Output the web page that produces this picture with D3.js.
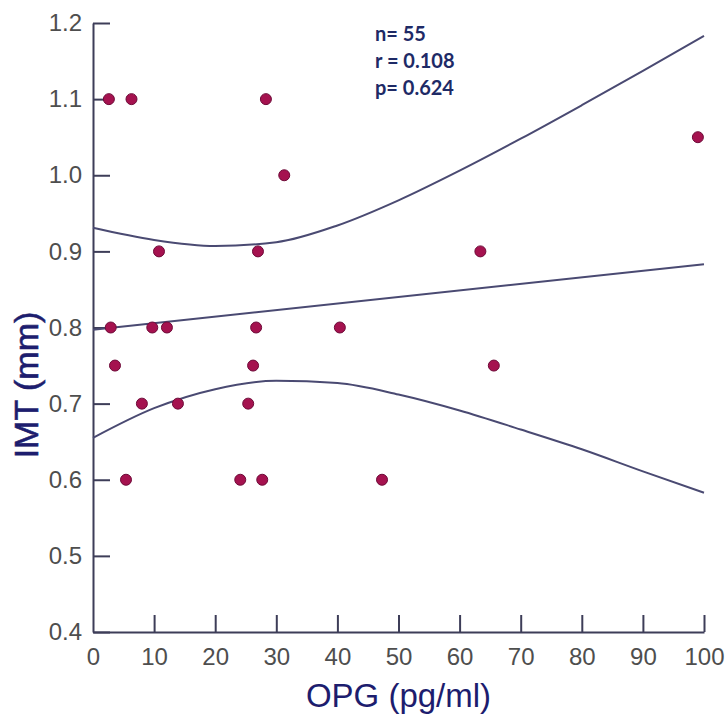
<!DOCTYPE html>
<html>
<head>
<meta charset="utf-8">
<script src="https://cdn.jsdelivr.net/npm/d3@7"></script>
<style>
  body { margin: 0; background: #fff; }
  svg { display: block; }
</style>
</head>
<body>
<svg id="chart"></svg>
<script>
// scatter points (OPG pg/ml, IMT mm)
const opg = [2.6, 6.3, 28.3, 99.0, 31.3, 10.8, 27.0, 63.4,
  2.9, 9.7, 12.1, 26.7, 40.4, 3.6, 26.2, 65.6,
  8.0, 13.9, 25.4, 5.4, 24.1, 27.7, 47.3];
const imt = [1.1, 1.1, 1.1, 1.05, 1.0, 0.9, 0.9, 0.9,
  0.8, 0.8, 0.8, 0.8, 0.8, 0.75, 0.75, 0.75,
  0.7, 0.7, 0.7, 0.6, 0.6, 0.6, 0.6];

// regression line and 95% band
const fitX = [0, 100];
const fitY = [0.797, 0.883];
const bandX = [0, 10, 20, 30, 40, 50, 60, 70, 80, 90, 100];
const upperY = [0.931, 0.915, 0.907, 0.912, 0.934, 0.967, 1.006, 1.048, 1.092, 1.137, 1.183];
const lowerY = [0.655, 0.694, 0.719, 0.730, 0.727, 0.712, 0.691, 0.666, 0.640, 0.611, 0.583];

const xTicks = [0, 10, 20, 30, 40, 50, 60, 70, 80, 90, 100];
const yTicks = [0.4, 0.5, 0.6, 0.7, 0.8, 0.9, 1.0, 1.1, 1.2];
const stats = ["n= 55", "r = 0.108", "p= 0.624"];

const width = 726;
const height = 718;

const svg = d3.select("#chart")
    .attr("width", width)
    .attr("height", height);

const x = d3.scaleLinear().domain([0, 100]).range([93, 704]);
const y = d3.scaleLinear().domain([0.4, 1.2]).range([632, 23]);

const axisColor = "#3d3d58";
const tickFont = "'Liberation Sans Narrow', 'Liberation Sans', Arial, sans-serif";

// axes, ticks pointing inward
const yAxis = svg.append("g")
    .attr("transform", `translate(${x(0)},0)`)
    .call(d3.axisLeft(y).tickValues(yTicks).tickFormat(d3.format(".1f"))
        .tickSizeInner(-17).tickSizeOuter(0).tickPadding(11));

const xAxis = svg.append("g")
    .attr("transform", `translate(0,${y(0.4)})`)
    .call(d3.axisBottom(x).tickValues(xTicks).tickFormat(d3.format("d"))
        .tickSizeInner(-17).tickSizeOuter(0).tickPadding(16));

[xAxis, yAxis].forEach(g => {
    g.select(".domain").attr("stroke", axisColor).attr("stroke-width", 2);
    g.selectAll(".tick line").attr("stroke", axisColor).attr("stroke-width", 2);
    g.selectAll(".tick text")
        .attr("fill", "#4e4e4e")
        .style("font-family", tickFont)
        .style("font-size", "24px");
});
xAxis.select(".tick:first-of-type line").remove();

// axis titles
svg.append("text")
    .attr("x", (x(0) + x(100)) / 2)
    .attr("y", 707)
    .attr("text-anchor", "middle")
    .attr("fill", "#1d1d6e")
    .style("font-family", "'Liberation Sans', Arial, sans-serif")
    .style("font-size", "33px")
    .text("OPG (pg/ml)");

svg.append("text")
    .attr("transform", "translate(38,385) rotate(-90)")
    .attr("text-anchor", "middle")
    .attr("fill", "#1d1d6e")
    .style("font-family", "'Liberation Sans', Arial, sans-serif")
    .style("font-size", "34px")
    .style("stroke", "#1d1d6e")
    .style("stroke-width", 0.6)
    .text("IMT (mm)");

// fit line and confidence band
const lineColor = "#4a4a72";
const band = d3.line().x(d => x(d[0])).y(d => y(d[1])).curve(d3.curveMonotoneX);

svg.append("path")
    .attr("d", band(d3.zip(fitX, fitY)))
    .attr("fill", "none")
    .attr("stroke", lineColor)
    .attr("stroke-width", 2);

[upperY, lowerY].forEach(vals => {
    svg.append("path")
        .attr("d", band(d3.zip(bandX, vals)))
        .attr("fill", "none")
        .attr("stroke", lineColor)
        .attr("stroke-width", 2);
});

// points
svg.append("g")
    .selectAll("circle")
    .data(d3.zip(opg, imt))
    .join("circle")
    .attr("cx", d => x(d[0]))
    .attr("cy", d => y(d[1]))
    .attr("r", 5.5)
    .attr("fill", "#a5124f")
    .attr("stroke", "#6e0a38")
    .attr("stroke-width", 1);

// stats
svg.append("g")
    .selectAll("text")
    .data(stats)
    .join("text")
    .attr("x", 375)
    .attr("y", (d, i) => 41 + i * 27)
    .attr("fill", "#1e2a66")
    .style("font-family", "Lato, 'Open Sans', sans-serif")
    .style("font-weight", "bold")
    .style("font-size", "20px")
    .text(d => d);
</script>
</body>
</html>
